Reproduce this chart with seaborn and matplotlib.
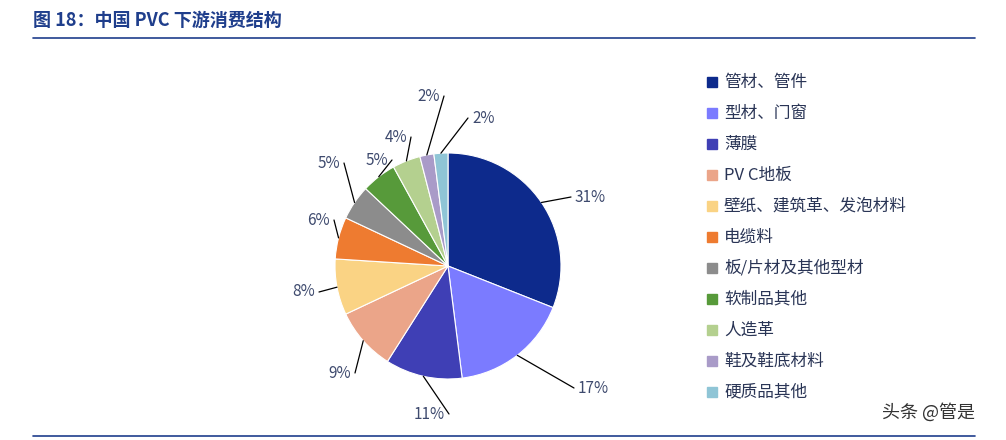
import numpy as np
import seaborn as sns
import matplotlib.pyplot as plt
from matplotlib.patches import Rectangle

sns.set_style("white")
plt.rcParams['font.family'] = ['Noto Sans CJK SC', 'DejaVu Sans']

categories = ['管材、管件', '型材、门窗', '薄膜', 'PV C地板', '壁纸、建筑革、发泡材料', '电缆料',
              '板/片材及其他型材', '软制品其他', '人造革', '鞋及鞋底材料', '硬质品其他']
shares = [31, 17, 11, 9, 8, 6, 5, 5, 4, 2, 2]
colors = ['#0D2A8C', '#7B7BFF', '#3F3FB5', '#EBA589', '#FAD384', '#EE7B30',
          '#8C8C8C', '#579A3A', '#B4D08F', '#A99BC8', '#8FC5D6']
# label pixel positions (x, y from top)
label_pos = [(575, 197), (578, 388), (427, 414), (333, 373), (297, 292), (312, 220),
             (322, 163), (370, 160), (389, 137), (422, 96), (472, 118)]

W, H = 1006, 440
fig = plt.figure(figsize=(W / 100, H / 100), dpi=100)
ax = fig.add_axes([0, 0, 1, 1])

cx, cy, r = 448, H - 266, 113
wedges, _ = ax.pie(shares, colors=colors, startangle=90, counterclock=False,
                   center=(cx, cy), radius=r, wedgeprops=dict(edgecolor='white', linewidth=0.8),
                   frame=True)
ax.set_xlim(0, W)
ax.set_ylim(0, H)
ax.set_aspect('equal')
ax.axis('off')

for w, s, (lx, ly) in zip(wedges, shares, label_pos):
    ang = np.deg2rad((w.theta1 + w.theta2) / 2)
    ex, ey = cx + r * np.cos(ang), cy + r * np.sin(ang)
    ly = H - ly
    tx = lx + 22 if lx < cx else lx - 4
    ax.plot([ex, tx], [ey, ly], color='black', lw=0.9)
    ha = 'right' if lx < cx else 'left'
    ax.text(lx + (18 if lx < cx else 0), ly, f'{s}%', ha=ha, va='center',
            fontsize=11, color='#3E4A6E')

for i, (c, name) in enumerate(zip(colors, categories)):
    y = H - (82 + i * 31)
    ax.add_patch(Rectangle((707, y - 5), 10, 10, color=c))
    ax.text(724, y, name, va='center', fontsize=12, color='#2A3556')

fig.text(0.033, 1 - 20 / H, '图 18：中国 PVC 下游消费结构', fontsize=13, fontweight='bold',
         color='#1F3E8C', va='center')
ax.plot([33, 975], [H - 38, H - 38], color='#1F3E8C', lw=1.2)
ax.plot([33, 975], [H - 436, H - 436], color='#1F3E8C', lw=1.2)
ax.text(975, H - 412, '头条 @管是', ha='right', va='center', fontsize=13, color='#333333')

fig.savefig('out.png', dpi=100)
